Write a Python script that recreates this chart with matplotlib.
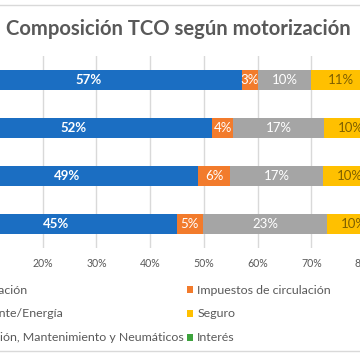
import matplotlib
matplotlib.use("Agg")
import matplotlib.pyplot as plt
from matplotlib.patches import Patch
from matplotlib.lines import Line2D
import numpy as np

plt.rcParams['font.family'] = ['Lato', 'DejaVu Sans']

title = "Composición TCO según motorización"
categories = ['Eléctrico', 'Híbrido enchufable', 'Híbrido', 'Gasolina']
series_names = ['Amortización', 'Impuestos de circulación', 'Carburante/Energía',
                'Seguro', 'Reparación, Mantenimiento y Neumáticos', 'Interés']
amortizacion = [57.0, 51.6, 48.9, 44.9]
impuestos = [3.0, 3.9, 6.0, 5.0]
energia = [10.0, 16.8, 17.2, 23.1]
seguro = [11.0, 10.0, 10.0, 10.0]
mantenimiento = [15.0, 14.0, 14.0, 13.0]
interes = [4.0, 3.7, 3.9, 4.0]
xticks = [0, 10, 20, 30, 40, 50, 60, 70, 80, 90, 100]

colors = ['#1b6ec2', '#f27b2c', '#a5a5a5', '#ffc000', '#4472c4', '#3da33d']
label_colors = ['white', 'white', 'white', '#7f6000', 'white', 'white']
label_weights = ['bold', 'normal', 'normal', 'normal', 'normal', 'normal']

W = H = 360
fig = plt.figure(figsize=(3.6, 3.6), dpi=100)
ax = fig.add_axes([-64.7 / W, (H - 248) / H, 537.2 / W, 192 / H])

data = [amortizacion, impuestos, energia, seguro, mantenimiento, interes]
y = np.arange(len(categories))
left = np.zeros(len(categories))
for vals, name, c, lc, lw in zip(data, series_names, colors, label_colors, label_weights):
    vals = np.array(vals)
    bars = ax.barh(y, vals, left=left, height=0.42, color=c, label=name, zorder=3)
    ax.bar_label(bars, labels=[f"{v:.0f}%" for v in vals], label_type='center',
                 color=lc, fontsize=9.5, fontweight=lw, zorder=4)
    left = left + vals

ax.set_xlim(0, 100)
ax.set_ylim(3.5, -0.5)
ax.set_yticks(y)
ax.set_yticklabels(categories)
ax.set_xticks(xticks)
ax.set_xticklabels([f"{t}%" for t in xticks], fontsize=7.6, color='#595959')
ax.tick_params(length=0, pad=7)
ax.grid(axis='x', color='#d9d9d9', linewidth=1, zorder=0)
for s in ax.spines.values():
    s.set_visible(False)

fig.text(178.5 / W, 1 - 29 / H, title, ha='center', va='center', fontsize=14.6,
         fontweight='bold', color='#595959')

# Excel fills legend row by row; matplotlib fills column by column
order = [0, 2, 4, 1, 3, 5]
handles = [Patch(facecolor=colors[i], edgecolor='none') for i in order]
labels = [series_names[i] for i in order]
leg = fig.legend(handles, labels, ncol=2, loc='upper right',
                 bbox_to_anchor=(331 / W, 1 - 284.5 / H), frameon=False, fontsize=8.9,
                 handlelength=0.5, handleheight=0.5, handletextpad=0.32,
                 columnspacing=0.3, labelspacing=1.05, borderpad=0, borderaxespad=0)
for t in leg.get_texts():
    t.set_color('#595959')

fig.add_artist(Line2D([0, 1], [1 - 5 / H, 1 - 5 / H], color='#d9d9d9', linewidth=1))
fig.add_artist(Line2D([0, 1], [1 - 350.5 / H, 1 - 350.5 / H], color='#d9d9d9', linewidth=1))

fig.savefig('out.png', dpi=100)
